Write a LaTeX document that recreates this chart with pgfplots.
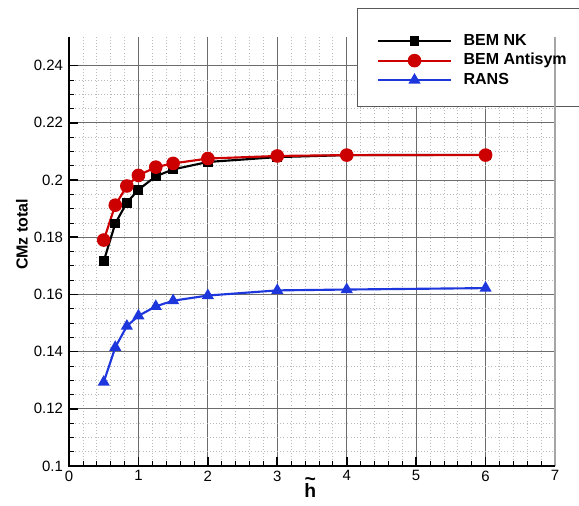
\documentclass[border=0pt]{standalone}
\usepackage{pgfplots}
\pgfplotsset{compat=1.18}
\usepackage{fontspec}
\setmainfont{Liberation Sans}
\definecolor{cred}{RGB}{204,0,0}
\definecolor{cblue}{RGB}{30,55,220}
\begin{document}
\begin{tikzpicture}
\begin{axis}[
  scale only axis,
  width=364.5pt, height=321.75pt,
  xmin=0, xmax=7, ymin=0.1, ymax=0.25,
  xtick={0,1,...,7},
  ytick={0.1,0.12,0.14,0.16,0.18,0.2,0.22,0.24},
  minor x tick num=4, minor y tick num=3,
  grid=both,
  major grid style={gray!85!black, line width=0.7pt},
  minor grid style={gray!55, dotted, line width=0.5pt},
  axis line style={draw=none},
  tick pos=left, tick align=inside,
  major tick length=7pt, minor tick length=3.5pt,
  major tick style={black, line width=1.3pt},
  minor tick style={black, line width=0.5pt},
  tick label style={font=\fontsize{11.2}{13}\selectfont},
  yticklabel style={xshift=-1pt},
  /pgf/number format/assume math mode=true,
  xlabel={\textbf{\ooalign{h\cr\hidewidth\raisebox{8.8pt}{\textasciitilde}\hidewidth}}},
  xlabel style={font=\fontsize{14.5}{16}\selectfont, at={(axis description cs:0.4965,0)}, anchor=north, inner sep=0pt, yshift=-12.75pt},
  ylabel={\textbf{CMz total}},
  ylabel style={font=\fontsize{12}{14}\selectfont, at={(axis description cs:-0.097,0.54)}, anchor=center},
  clip=false,
  legend style={draw=none, fill=none, at={(axis description cs:0.634,1.008)}, anchor=north west,
    inner xsep=0pt, inner ysep=0pt, font=\bfseries\fontsize{12}{14}\selectfont,
    nodes={inner sep=0pt, text height=8.6pt, text depth=2.4pt}, column sep=9pt, row sep=3.6pt},
  legend cell align=left,
  legend image code/.code={\draw[mark repeat=2,mark phase=2,#1] plot coordinates {(0cm,0cm) (0.95cm,0cm) (1.9cm,0cm)};},
]
\coordinate (SW) at (rel axis cs:0,0);
\coordinate (NE) at (rel axis cs:1,1);
\draw[fill=white, draw=none] (axis cs:4.148,0.2259) rectangle (axis cs:7.6,0.2601);
\draw[gray!70!black, line width=0.6pt] (axis cs:7.6,0.2601) -- (axis cs:4.148,0.2601) -- (axis cs:4.148,0.2259) -- (axis cs:7.6,0.2259);
\addplot[black, line width=1.6pt, mark=square*, mark size=2.9pt, mark options={solid}] coordinates {
(0.5,0.1716)(0.6667,0.1848)(0.8333,0.1921)(1,0.1966)(1.25,0.2013)(1.5,0.2037)(2,0.2063)(3,0.2080)(4,0.2087)(6,0.2088)};
\addlegendentry{BEM NK}
\addplot[cred, line width=1.6pt, mark=*, mark size=4.3pt] coordinates {
(0.5,0.1790)(0.6667,0.1912)(0.8333,0.1979)(1,0.2016)(1.25,0.2045)(1.5,0.2058)(2,0.2075)(3,0.2084)(4,0.2087)(6,0.2087)};
\addlegendentry{BEM Antisym}
\addplot[cblue, line width=1.6pt, mark=triangle*, mark size=3.7pt] coordinates {
(0.5,0.1293)(0.6667,0.1415)(0.8333,0.1489)(1,0.1525)(1.25,0.1558)(1.5,0.1578)(2,0.1596)(3,0.1614)(4,0.1617)(6,0.1622)};
\addlegendentry{RANS}
\draw[gray!70, line width=1.2pt] (rel axis cs:1,0) -- (rel axis cs:1,1);
\draw[black, line width=1.6pt] (rel axis cs:0,1) -- (rel axis cs:0,0) -- (rel axis cs:1,0);
\end{axis}
\pgfresetboundingbox
\path ([shift={(-51.75pt,-29.25pt)}]SW) rectangle ([shift={(18pt,27.75pt)}]NE);
\end{tikzpicture}
\end{document}
